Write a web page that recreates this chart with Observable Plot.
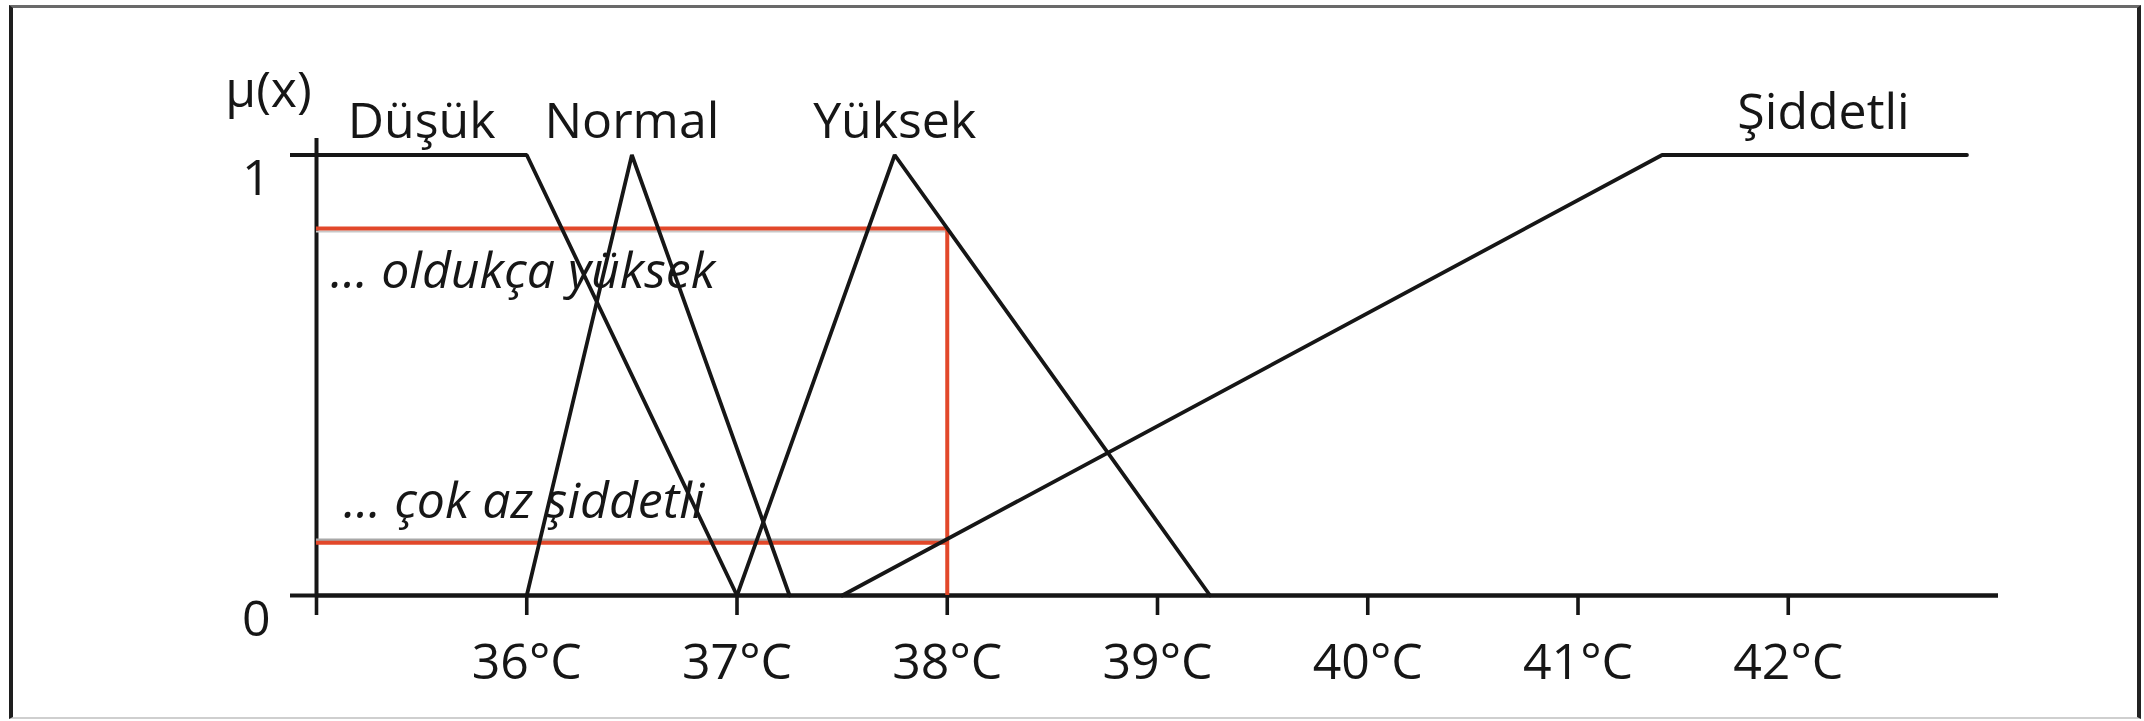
<!DOCTYPE html>
<html>
<head>
<meta charset="utf-8">
<script src="https://cdn.jsdelivr.net/npm/d3@7"></script>
<script src="https://cdn.jsdelivr.net/npm/@observablehq/plot@0.6"></script>
<style>
  html, body { margin: 0; padding: 0; background: #fff; }
  #wrap { position: relative; width: 2144px; height: 721px; overflow: hidden; background: #fff; }
  #border { position: absolute; left: 9px; top: 5px; width: 2132px; height: 714px; box-sizing: border-box;
            border-left: 4px solid #1e1e1e; border-top: 3px solid #6a6a6a; border-right: 4px solid #222;
            border-bottom: 2px solid #cfcfcf; pointer-events: none; }
</style>
</head>
<body>
<div id="wrap"><div id="border"></div></div>
<script>
// ---- data ----
const xTicks = [35, 36, 37, 38, 39, 40, 41, 42];
const yTicks = [0, 1];
const setNames = ["Düşük", "Normal", "Yüksek", "Şiddetli"];
const setBreakX = [[35, 36, 37], [36, 36.5, 37.25], [37, 37.75, 39.25], [37.5, 41.4, 42.85]];
const setBreakMu = [[1, 1, 0], [0, 1, 0], [0, 1, 0], [0, 1, 1]];
const inputTemp = [38];
const inputMu = [0.833, 0.12];
const muLabels = ["... oldukça yüksek", "... çok az şiddetli"];
const yName = "μ(x)";

// ---- derived tables ----
const points = setNames.flatMap((s, i) => setBreakX[i].map((x, j) => ({set: s, x, mu: setBreakMu[i][j]})));
const setLabels = setNames.map((s, i) => {
  const xs = setBreakX[i].filter((x, j) => setBreakMu[i][j] === 1);
  return {set: s, x: (d3.min(xs) + d3.max(xs)) / 2};
});
const xMin = xTicks[0];
const t = inputTemp[0];

const ink = "#161616";
const red = "#e2482a";
const font = "'Open Sans', 'Noto Sans', sans-serif";

const chart = Plot.plot({
  width: 2144,
  height: 721,
  marginLeft: 316,
  marginRight: 146,
  marginTop: 154.5,
  marginBottom: 126,
  x: {domain: [35, 43], label: null},
  y: {domain: [0, 1], label: null},
  style: {fontFamily: font, color: ink, background: "transparent", overflow: "visible"},
  marks: [
    // x axis baseline and y axis line
    Plot.ruleY([0], {x1: 35, x2: 43, stroke: ink, strokeWidth: 4.5}),
    Plot.ruleX([xMin], {y1: 0, y2: 1.0375, stroke: ink, strokeWidth: 4}),
    Plot.axisY({ticks: yTicks, tickSize: 26, tickFormat: () => "", label: null, strokeWidth: 4, stroke: ink}),
    Plot.text(yTicks, {y: d => d, text: d => String(d), frameAnchor: "left", dx: -46, dy: 24,
      textAnchor: "end", fontSize: 50, fill: ink}),
    Plot.axisX({ticks: xTicks, tickSize: 20, tickPadding: 28, strokeWidth: 3.6, stroke: ink, label: null,
      tickFormat: d => d === xMin ? "" : `${d}°C`, fontSize: 50, fill: ink}),
    // red/grey input lines
    Plot.ruleY([inputMu[1]], {x1: xMin, x2: t, stroke: "#a8a8a8", strokeWidth: 2.5, dy: -3}),
    Plot.ruleY([inputMu[0]], {x1: xMin, x2: t, stroke: "#c8c8c8", strokeWidth: 2, dy: 3}),
    Plot.ruleY(inputMu, {x1: xMin, x2: t, stroke: red, strokeWidth: 4}),
    Plot.ruleX(inputTemp, {y1: 0, y2: d3.max(inputMu), stroke: red, strokeWidth: 4}),
    // membership functions
    Plot.line(points, {x: "x", y: "mu", z: "set", stroke: ink, strokeWidth: 3.8, strokeLinejoin: "miter"}),
    // set labels
    Plot.text(setLabels.slice(0, 3), {x: "x", y: () => 1, text: "set", lineAnchor: "bottom", dy: -17.5,
      fontSize: 50, fill: ink}),
    Plot.text(setLabels.slice(3), {x: "x", y: () => 1, text: "set", lineAnchor: "bottom", dy: -26.5, dx: 9,
      fontSize: 50, fill: ink}),
    // y name
    Plot.text([yName], {x: () => xMin, y: () => 1, text: d => d, lineAnchor: "bottom", dx: -48, dy: -48.5,
      fontSize: 50, fill: ink}),
    // annotations
    Plot.text([muLabels[0]], {y: () => inputMu[0], text: d => d, frameAnchor: "left", textAnchor: "start",
      lineAnchor: "bottom", dx: 14, dy: 59, fontSize: 50, fontStyle: "italic", fill: ink}),
    Plot.text([muLabels[1]], {y: () => inputMu[1], text: d => d, frameAnchor: "left", textAnchor: "start",
      lineAnchor: "bottom", dx: 27, dy: -25, fontSize: 50, fontStyle: "italic", fill: ink})
  ]
});
document.getElementById("wrap").insertBefore(chart, document.getElementById("border"));
</script>
</body>
</html>
